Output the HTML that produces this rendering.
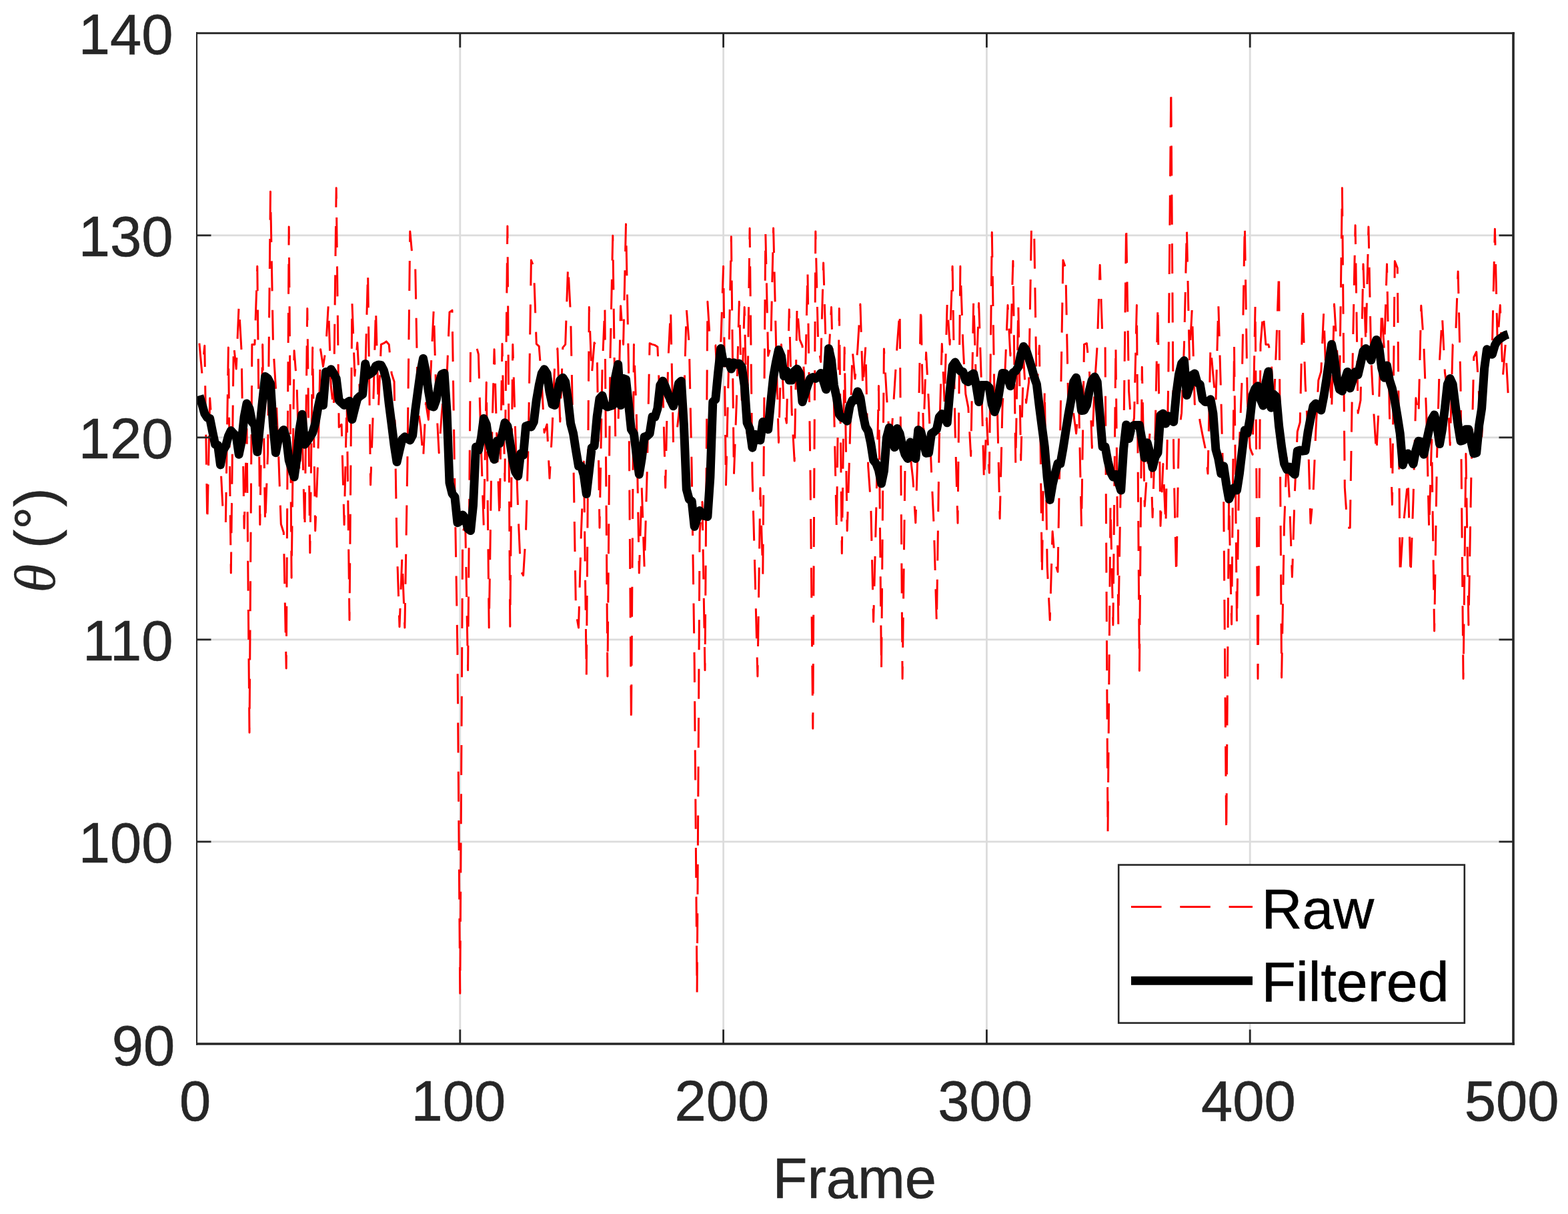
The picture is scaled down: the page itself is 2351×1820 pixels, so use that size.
<!DOCTYPE html>
<html lang="en"><head><meta charset="utf-8"><title>Raw vs Filtered angle per frame</title>
<style>html,body{margin:0;padding:0;background:#fff}body{width:2351px;height:1820px;overflow:hidden}svg{display:block}text{font-family:"Liberation Sans",Arial,Helvetica,sans-serif;font-size:85.00px;fill:#262626;stroke:#262626;stroke-width:0.6px}.lg text{stroke:#000}.th{font-family:"Liberation Serif",serif;font-style:italic;font-size:87px;stroke-width:0.3px}.lg text{fill:#000}</style></head><body>
<svg width="2351" height="1820" viewBox="0 0 2351 1820" role="img" aria-label="Raw and filtered angle per frame">
<rect width="2351" height="1820" fill="#fff"/>
<path d="M689.8 49.7 V1565.0 M1084.6 49.7 V1565.0 M1479.4 49.7 V1565.0 M1874.2 49.7 V1565.0 M295.0 1261.9 H2269.0 M295.0 958.9 H2269.0 M295.0 655.8 H2269.0 M295.0 352.8 H2269.0" stroke="#dcdcdc" stroke-width="2.8" fill="none"/>
<clipPath id="c"><rect x="295.0" y="49.7" width="1974.0" height="1515.3"/></clipPath>
<g clip-path="url(#c)" fill="none">
<path d="M298.9 514.7 L302.9 559.6 L306.8 518.3 L310.8 784.7 L314.7 597.1 L318.7 653.5 L322.6 671.1 L326.6 686.8 L330.5 691.9 L334.5 771.0 L338.4 784.7 L342.4 521.1 L346.3 859.0 L350.3 515.6 L354.2 553.1 L358.2 456.9 L362.1 526.5 L366.1 792.1 L370.0 643.1 L374.0 1098.3 L377.9 516.4 L381.9 516.4 L385.8 399.2 L389.8 786.6 L393.7 516.4 L397.6 786.6 L401.6 678.6 L405.5 287.3 L409.5 516.4 L413.4 580.6 L417.4 675.1 L421.3 785.7 L425.3 798.3 L429.2 1002.0 L433.2 340.1 L437.1 866.3 L441.1 525.7 L445.0 576.1 L449.0 711.4 L452.9 639.4 L456.9 794.8 L460.8 462.4 L464.8 828.7 L468.7 521.1 L472.7 795.7 L476.6 692.7 L480.6 523.8 L484.5 549.4 L488.5 522.9 L492.4 456.0 L496.3 579.5 L500.3 615.6 L504.2 281.8 L508.2 640.6 L512.1 636.3 L516.1 786.6 L520.0 600.6 L524.0 929.6 L527.9 452.3 L531.9 563.3 L535.8 513.7 L539.8 595.5 L543.7 561.2 L547.7 559.8 L551.6 407.4 L555.6 727.0 L559.5 613.7 L563.5 462.4 L567.4 613.6 L571.4 516.4 L575.3 514.7 L579.3 511.9 L583.2 516.4 L587.2 560.3 L591.1 572.2 L595.0 815.9 L599.0 939.7 L602.9 835.2 L606.9 941.1 L610.8 699.1 L614.8 346.9 L618.7 390.0 L622.7 400.1 L626.6 611.5 L630.6 639.2 L634.5 688.4 L638.5 603.9 L642.4 629.2 L646.4 547.1 L650.3 463.3 L654.3 606.5 L658.2 678.9 L662.2 621.3 L666.1 576.1 L670.1 563.6 L674.0 467.9 L678.0 465.2 L681.9 732.6 L685.9 972.6 L689.8 1489.2 L693.7 798.3 L697.7 786.4 L701.6 1004.7 L705.6 514.7 L709.5 516.4 L713.5 516.4 L717.4 531.1 L721.4 670.9 L725.3 789.3 L729.3 573.2 L733.2 941.1 L737.2 671.5 L741.1 523.8 L745.1 662.4 L749.0 778.3 L753.0 515.6 L756.9 720.8 L760.9 339.0 L764.8 939.3 L768.8 516.4 L772.7 648.3 L776.7 765.1 L780.6 855.3 L784.6 862.7 L788.5 798.3 L792.4 655.8 L796.4 390.0 L800.3 400.1 L804.3 515.6 L808.2 519.2 L812.2 571.7 L816.1 648.5 L820.1 636.2 L824.0 717.1 L828.0 642.8 L831.9 541.5 L835.9 522.5 L839.8 632.1 L843.8 521.1 L847.7 516.4 L851.7 397.3 L855.6 472.5 L859.6 675.8 L863.5 917.7 L867.5 941.1 L871.4 798.3 L875.4 692.1 L879.3 1013.9 L883.3 460.6 L887.2 562.7 L891.1 513.7 L895.1 519.9 L899.0 791.2 L903.0 554.2 L906.9 458.7 L910.9 1013.9 L914.8 545.3 L918.8 353.3 L922.7 654.5 L926.7 649.7 L930.6 458.7 L934.6 516.4 L938.5 335.9 L942.5 549.7 L946.4 1086.2 L950.4 516.4 L954.3 621.5 L958.3 859.0 L962.2 730.9 L966.2 851.7 L970.1 711.9 L974.1 514.7 L978.0 516.4 L982.0 517.4 L985.9 520.1 L989.8 612.9 L993.8 578.4 L997.7 731.2 L1001.7 542.8 L1005.6 463.9 L1009.6 665.2 L1013.5 659.7 L1017.5 622.8 L1021.4 585.4 L1025.4 605.3 L1029.3 463.0 L1033.3 516.4 L1037.2 703.5 L1041.2 991.0 L1045.1 1489.2 L1049.1 798.3 L1053.0 752.4 L1057.0 1004.7 L1060.9 452.3 L1064.9 516.5 L1068.8 514.7 L1072.8 517.4 L1076.7 587.9 L1080.7 516.4 L1084.6 399.2 L1088.5 727.0 L1092.5 549.0 L1096.4 354.8 L1100.4 712.2 L1104.3 604.4 L1108.3 452.3 L1112.2 599.8 L1116.2 460.6 L1120.1 650.1 L1124.1 342.3 L1128.0 712.4 L1132.0 859.0 L1135.9 1013.9 L1139.9 731.8 L1143.8 860.8 L1147.8 349.3 L1151.7 533.4 L1155.7 519.0 L1159.6 342.0 L1163.6 516.4 L1167.5 663.4 L1171.5 516.4 L1175.4 613.1 L1179.4 634.3 L1183.3 463.9 L1187.2 618.4 L1191.2 691.1 L1195.1 457.5 L1199.1 509.2 L1203.0 518.3 L1207.0 584.6 L1210.9 405.6 L1214.9 701.3 L1218.8 1092.2 L1222.8 346.9 L1226.7 516.4 L1230.7 542.4 L1234.6 394.0 L1238.6 534.4 L1242.5 536.2 L1246.5 460.6 L1250.4 604.8 L1254.4 794.8 L1258.3 462.4 L1262.3 829.7 L1266.2 521.1 L1270.2 795.7 L1274.1 668.4 L1278.1 524.7 L1282.0 567.8 L1285.9 522.9 L1289.9 456.0 L1293.8 582.4 L1297.8 519.2 L1301.7 699.1 L1305.7 755.7 L1309.6 932.3 L1313.6 771.6 L1317.5 578.4 L1321.5 1005.6 L1325.4 522.9 L1329.4 593.2 L1333.3 651.3 L1337.3 643.0 L1341.2 582.0 L1345.2 516.4 L1349.1 465.2 L1353.1 1017.6 L1357.0 701.5 L1361.0 690.5 L1364.9 682.5 L1368.9 718.8 L1372.8 783.8 L1376.8 650.0 L1380.7 457.5 L1384.6 652.9 L1388.6 528.6 L1392.5 603.5 L1396.5 706.3 L1400.4 793.2 L1404.4 935.1 L1408.3 658.4 L1412.3 515.6 L1416.2 602.8 L1420.2 454.2 L1424.1 516.4 L1428.1 399.2 L1432.0 642.1 L1436.0 784.2 L1439.9 399.2 L1443.9 516.4 L1447.8 590.5 L1451.8 610.9 L1455.7 683.4 L1459.7 449.6 L1463.6 577.0 L1467.6 454.5 L1471.5 575.1 L1475.5 722.5 L1479.4 626.9 L1483.3 709.0 L1487.3 348.2 L1491.2 611.6 L1495.2 605.1 L1499.1 777.4 L1503.1 606.3 L1507.0 554.8 L1511.0 457.5 L1514.9 533.1 L1518.9 391.3 L1522.8 696.9 L1526.8 456.3 L1530.7 689.8 L1534.7 538.4 L1538.6 603.9 L1542.6 572.9 L1546.5 339.0 L1550.5 340.5 L1554.4 591.5 L1558.4 518.3 L1562.3 862.7 L1566.3 582.1 L1570.2 849.8 L1574.2 929.6 L1578.1 796.7 L1582.0 844.3 L1586.0 857.2 L1589.9 634.7 L1593.9 390.0 L1597.8 401.9 L1601.8 610.0 L1605.7 596.5 L1609.7 620.2 L1613.6 649.9 L1617.6 602.5 L1621.5 790.0 L1625.5 516.4 L1629.4 514.7 L1633.4 554.2 L1637.3 671.5 L1641.3 577.3 L1645.2 517.9 L1649.2 397.3 L1653.1 511.0 L1657.1 519.2 L1661.0 1249.8 L1665.0 755.9 L1668.9 936.9 L1672.9 516.5 L1676.8 936.0 L1680.7 704.4 L1684.7 667.8 L1688.6 335.5 L1692.6 585.9 L1696.5 644.4 L1700.5 626.9 L1704.4 457.5 L1708.4 1005.6 L1712.3 550.3 L1716.3 759.0 L1720.2 701.6 L1724.2 646.7 L1728.1 775.6 L1732.1 647.4 L1736.0 456.0 L1740.0 788.4 L1743.9 695.6 L1747.9 788.4 L1751.8 570.1 L1755.8 131.5 L1759.7 687.8 L1763.7 863.6 L1767.6 648.4 L1771.6 619.4 L1775.5 516.4 L1779.4 342.0 L1783.4 538.7 L1787.3 463.0 L1791.3 606.1 L1795.2 603.3 L1799.2 631.9 L1803.1 652.5 L1807.1 671.8 L1811.0 710.1 L1815.0 518.3 L1818.9 561.9 L1822.9 604.4 L1826.8 456.0 L1830.8 594.6 L1834.7 751.7 L1838.7 1249.8 L1842.6 746.9 L1846.6 936.0 L1850.5 516.5 L1854.5 936.0 L1858.4 664.0 L1862.4 562.6 L1866.3 335.9 L1870.3 600.5 L1874.2 671.4 L1878.1 681.5 L1882.1 456.9 L1886.0 1017.6 L1890.0 516.4 L1893.9 467.3 L1897.9 516.4 L1901.8 516.4 L1905.8 532.1 L1909.7 617.9 L1913.7 516.4 L1917.6 407.4 L1921.6 1015.7 L1925.5 787.0 L1929.5 678.9 L1933.4 749.1 L1937.4 864.9 L1941.3 739.8 L1945.3 647.0 L1949.2 633.2 L1953.2 456.3 L1957.1 575.3 L1961.1 648.1 L1965.0 784.7 L1969.0 740.2 L1972.9 645.5 L1976.8 570.1 L1980.8 557.0 L1984.7 468.8 L1988.7 579.7 L1992.6 534.5 L1996.6 615.7 L2000.5 456.0 L2004.5 522.1 L2008.4 588.0 L2012.4 281.8 L2016.3 730.8 L2020.3 791.2 L2024.2 791.2 L2028.2 534.0 L2032.1 337.8 L2036.1 619.3 L2040.0 600.0 L2044.0 395.9 L2047.9 516.4 L2051.9 340.1 L2055.8 537.5 L2059.8 618.9 L2063.7 680.8 L2067.7 600.5 L2071.6 462.4 L2075.5 525.6 L2079.5 395.9 L2083.4 620.1 L2087.4 756.6 L2091.3 391.5 L2095.3 401.9 L2099.2 864.5 L2103.2 798.3 L2107.1 758.1 L2111.1 717.8 L2115.0 864.5 L2119.0 748.6 L2122.9 596.8 L2126.9 624.3 L2130.8 458.2 L2134.8 516.4 L2138.7 621.6 L2142.7 793.9 L2146.6 659.1 L2150.6 946.1 L2154.5 686.0 L2158.5 540.5 L2162.4 473.4 L2166.4 558.3 L2170.3 586.2 L2174.2 667.1 L2178.2 516.4 L2182.1 516.4 L2186.1 406.9 L2190.0 575.3 L2194.0 1017.6 L2197.9 680.2 L2201.9 936.9 L2205.8 718.5 L2209.8 535.4 L2213.7 527.5 L2217.7 593.7 L2221.6 657.3 L2225.6 567.4 L2229.5 539.6 L2233.5 529.7 L2237.4 516.4 L2241.4 343.2 L2245.3 516.4 L2249.3 457.5 L2253.2 566.4 L2257.2 516.4 L2261.1 589.4" stroke="#ff0000" stroke-width="3" stroke-dasharray="45 28.3" stroke-linejoin="round"/>
<path d="M298.9 593.1 L302.9 606.2 L306.8 620.0 L310.8 626.2 L314.7 627.5 L318.7 647.5 L322.6 666.2 L326.6 667.5 L330.5 696.9 L334.5 675.0 L338.4 668.8 L342.4 653.8 L346.3 645.6 L350.3 650.0 L354.2 653.8 L358.2 681.2 L362.1 662.5 L366.1 625.0 L370.0 605.0 L374.0 612.5 L377.9 632.5 L381.9 637.5 L385.8 677.5 L389.8 637.5 L393.7 600.0 L397.6 564.4 L401.6 567.5 L405.5 575.0 L409.5 637.5 L413.4 678.8 L417.4 658.8 L421.3 650.0 L425.3 644.4 L429.2 656.2 L433.2 690.0 L437.1 702.5 L441.1 715.0 L445.0 687.5 L449.0 643.8 L452.9 621.2 L456.9 666.2 L460.8 661.2 L464.8 655.0 L468.7 648.8 L472.7 635.0 L476.6 612.5 L480.6 593.8 L484.5 607.5 L488.5 557.5 L492.4 558.7 L496.3 553.7 L500.3 560.0 L504.2 567.5 L508.2 600.0 L512.1 603.8 L516.1 607.5 L520.0 603.8 L524.0 601.2 L527.9 628.8 L531.9 612.5 L535.8 597.5 L539.8 593.8 L543.7 591.2 L547.7 545.6 L551.6 562.5 L555.6 560.0 L559.5 556.9 L563.5 548.7 L567.4 546.9 L571.4 547.5 L575.3 555.0 L579.3 570.0 L583.2 605.0 L587.2 636.2 L591.1 667.5 L595.0 692.5 L599.0 675.0 L602.9 658.8 L606.9 655.0 L610.8 657.5 L614.8 660.0 L618.7 652.5 L622.7 615.0 L626.6 586.2 L630.6 557.5 L634.5 537.5 L638.5 557.5 L642.4 586.2 L646.4 608.8 L650.3 610.0 L654.3 598.8 L658.2 575.0 L662.2 561.2 L666.1 559.4 L670.1 618.8 L674.0 723.7 L678.0 740.0 L681.9 745.0 L685.9 783.7 L689.8 781.3 L693.7 771.9 L697.7 777.5 L701.6 792.5 L705.6 795.6 L709.5 757.5 L713.5 670.0 L717.4 675.0 L721.4 657.5 L725.3 627.5 L729.3 636.2 L733.2 663.8 L737.2 678.8 L741.1 688.8 L745.1 661.2 L749.0 665.0 L753.0 651.2 L756.9 633.8 L760.9 638.8 L764.8 663.8 L768.8 690.0 L772.7 707.5 L776.7 713.8 L780.6 680.0 L784.6 682.5 L788.5 638.8 L792.4 637.5 L796.4 640.0 L800.3 632.5 L804.3 600.0 L808.2 577.5 L812.2 560.0 L816.1 553.7 L820.1 560.0 L824.0 587.5 L828.0 606.2 L831.9 607.5 L835.9 587.5 L839.8 570.0 L843.8 566.2 L847.7 572.5 L851.7 600.0 L855.6 635.0 L859.6 650.0 L863.5 675.0 L867.5 698.8 L871.4 698.8 L875.4 712.5 L879.3 740.6 L883.3 706.2 L887.2 671.2 L891.1 668.8 L895.1 625.0 L899.0 597.5 L903.0 593.1 L906.9 607.5 L910.9 610.0 L914.8 608.8 L918.8 607.5 L922.7 565.0 L926.7 546.3 L930.6 607.5 L934.6 567.5 L938.5 568.8 L942.5 606.2 L946.4 643.8 L950.4 650.0 L954.3 681.2 L958.3 711.2 L962.2 687.5 L966.2 655.0 L970.1 653.8 L974.1 650.0 L978.0 625.0 L982.0 625.0 L985.9 612.5 L989.8 577.5 L993.8 571.2 L997.7 580.0 L1001.7 591.2 L1005.6 600.0 L1009.6 608.8 L1013.5 595.0 L1017.5 575.0 L1021.4 571.2 L1025.4 637.5 L1029.3 733.7 L1033.3 748.7 L1037.2 751.3 L1041.2 789.4 L1045.1 777.5 L1049.1 765.6 L1053.0 771.3 L1057.0 773.7 L1060.9 774.4 L1064.9 715.0 L1068.8 602.5 L1072.8 598.8 L1076.7 558.7 L1080.7 522.5 L1084.6 543.7 L1088.5 543.7 L1092.5 543.1 L1096.4 553.1 L1100.4 543.7 L1104.3 546.3 L1108.3 545.0 L1112.2 550.0 L1116.2 577.5 L1120.1 633.8 L1124.1 642.5 L1128.0 671.2 L1132.0 651.2 L1135.9 656.2 L1139.9 660.0 L1143.8 632.5 L1147.8 633.8 L1151.7 643.8 L1155.7 602.5 L1159.6 565.0 L1163.6 542.5 L1167.5 524.4 L1171.5 533.7 L1175.4 563.8 L1179.4 556.3 L1183.3 570.0 L1187.2 570.0 L1191.2 556.3 L1195.1 553.1 L1199.1 560.0 L1203.0 602.5 L1207.0 590.0 L1210.9 577.5 L1214.9 567.5 L1218.8 565.6 L1222.8 567.5 L1226.7 565.0 L1230.7 559.4 L1234.6 571.2 L1238.6 583.8 L1242.5 522.5 L1246.5 540.0 L1250.4 577.5 L1254.4 596.2 L1258.3 621.2 L1262.3 626.2 L1266.2 627.5 L1270.2 631.2 L1274.1 608.8 L1278.1 600.0 L1282.0 600.0 L1285.9 586.9 L1289.9 596.2 L1293.8 621.2 L1297.8 640.0 L1301.7 646.2 L1305.7 665.0 L1309.6 690.0 L1313.6 695.0 L1317.5 705.0 L1321.5 725.0 L1325.4 706.2 L1329.4 656.2 L1333.3 641.2 L1337.3 656.2 L1341.2 670.6 L1345.2 642.5 L1349.1 650.0 L1353.1 668.8 L1357.0 681.2 L1361.0 687.5 L1364.9 663.1 L1368.9 681.2 L1372.8 687.5 L1376.8 644.4 L1380.7 647.5 L1384.6 662.5 L1388.6 679.4 L1392.5 678.8 L1396.5 650.0 L1400.4 647.5 L1404.4 643.8 L1408.3 625.0 L1412.3 620.6 L1416.2 625.0 L1420.2 633.8 L1424.1 587.5 L1428.1 548.7 L1432.0 543.1 L1436.0 550.0 L1439.9 556.3 L1443.9 557.5 L1447.8 570.0 L1451.8 572.5 L1455.7 562.5 L1459.7 560.0 L1463.6 577.5 L1467.6 602.5 L1471.5 577.5 L1475.5 577.5 L1479.4 577.5 L1483.3 581.2 L1487.3 606.2 L1491.2 617.5 L1495.2 606.2 L1499.1 581.2 L1503.1 559.4 L1507.0 560.0 L1511.0 566.2 L1514.9 578.8 L1518.9 558.7 L1522.8 556.3 L1526.8 550.0 L1530.7 531.3 L1534.7 519.4 L1538.6 525.0 L1542.6 537.5 L1546.5 550.0 L1550.5 565.0 L1554.4 576.2 L1558.4 610.0 L1562.3 640.0 L1566.3 670.0 L1570.2 716.3 L1574.2 749.4 L1578.1 726.3 L1582.0 710.0 L1586.0 695.0 L1589.9 695.0 L1593.9 672.5 L1597.8 647.5 L1601.8 622.5 L1605.7 601.2 L1609.7 572.5 L1613.6 566.2 L1617.6 585.0 L1621.5 615.6 L1625.5 615.0 L1629.4 607.5 L1633.4 585.0 L1637.3 570.0 L1641.3 565.0 L1645.2 572.5 L1649.2 622.5 L1653.1 670.0 L1657.1 670.0 L1661.0 691.2 L1665.0 707.5 L1668.9 715.0 L1672.9 711.2 L1676.8 722.5 L1680.7 735.0 L1684.7 672.5 L1688.6 636.9 L1692.6 657.5 L1696.5 640.0 L1700.5 637.5 L1704.4 637.5 L1708.4 637.5 L1712.3 660.0 L1716.3 686.2 L1720.2 663.8 L1724.2 678.8 L1728.1 701.2 L1732.1 685.0 L1736.0 678.8 L1740.0 622.5 L1743.9 620.0 L1747.9 635.0 L1751.8 623.8 L1755.8 630.0 L1759.7 632.5 L1763.7 590.0 L1767.6 561.2 L1771.6 545.0 L1775.5 540.6 L1779.4 592.5 L1783.4 580.0 L1787.3 562.5 L1791.3 560.0 L1795.2 573.8 L1799.2 576.2 L1803.1 598.8 L1807.1 602.5 L1811.0 602.5 L1815.0 598.8 L1818.9 620.0 L1822.9 673.8 L1826.8 687.5 L1830.8 710.0 L1834.7 698.8 L1838.7 726.3 L1842.6 748.1 L1846.6 738.7 L1850.5 731.3 L1854.5 735.0 L1858.4 710.0 L1862.4 676.2 L1866.3 645.0 L1870.3 649.4 L1874.2 627.5 L1878.1 592.5 L1882.1 582.5 L1886.0 578.8 L1890.0 598.8 L1893.9 608.1 L1897.9 573.8 L1901.8 556.9 L1905.8 611.2 L1909.7 591.2 L1913.7 595.0 L1917.6 638.8 L1921.6 670.0 L1925.5 695.0 L1929.5 703.8 L1933.4 700.0 L1937.4 707.5 L1941.3 711.2 L1945.3 676.2 L1949.2 675.0 L1953.2 676.2 L1957.1 675.6 L1961.1 647.5 L1965.0 627.5 L1969.0 608.8 L1972.9 605.0 L1976.8 611.2 L1980.8 615.0 L1984.7 595.0 L1988.7 570.0 L1992.6 542.5 L1996.6 516.3 L2000.5 536.3 L2004.5 567.5 L2008.4 583.8 L2012.4 586.2 L2016.3 570.0 L2020.3 557.5 L2024.2 581.9 L2028.2 570.0 L2032.1 557.5 L2036.1 561.9 L2040.0 545.0 L2044.0 526.3 L2047.9 522.5 L2051.9 532.5 L2055.8 540.0 L2059.8 520.0 L2063.7 509.4 L2067.7 520.0 L2071.6 551.3 L2075.5 566.2 L2079.5 548.1 L2083.4 570.0 L2087.4 582.5 L2091.3 601.2 L2095.3 625.0 L2099.2 650.0 L2103.2 696.9 L2107.1 685.0 L2111.1 680.0 L2115.0 687.5 L2119.0 695.6 L2122.9 675.0 L2126.9 661.2 L2130.8 662.5 L2134.8 681.2 L2138.7 662.5 L2142.7 643.8 L2146.6 628.8 L2150.6 621.9 L2154.5 637.5 L2158.5 665.6 L2162.4 643.8 L2166.4 612.5 L2170.3 576.2 L2174.2 567.5 L2178.2 576.2 L2182.1 607.5 L2186.1 637.5 L2190.0 661.2 L2194.0 660.0 L2197.9 643.8 L2201.9 643.8 L2205.8 662.5 L2209.8 680.0 L2213.7 678.8 L2217.7 637.5 L2221.6 612.5 L2225.6 552.5 L2229.5 523.7 L2233.5 530.0 L2237.4 531.3 L2241.4 517.5 L2245.3 510.6 L2249.3 507.5 L2253.2 505.0 L2257.2 502.5 L2261.1 501.3" stroke="#000" stroke-width="13" stroke-linejoin="round" stroke-linecap="butt"/>
</g>
<path d="M689.8 1565.0 v-21.5 M689.8 49.7 v21.5 M1084.6 1565.0 v-21.5 M1084.6 49.7 v21.5 M1479.4 1565.0 v-21.5 M1479.4 49.7 v21.5 M1874.2 1565.0 v-21.5 M1874.2 49.7 v21.5 M295.0 1261.9 h21.5 M2269.0 1261.9 h-21.5 M295.0 958.9 h21.5 M2269.0 958.9 h-21.5 M295.0 655.8 h21.5 M2269.0 655.8 h-21.5 M295.0 352.8 h21.5 M2269.0 352.8 h-21.5" stroke="#262626" stroke-width="2.8" fill="none"/>
<g fill="#262626"><rect x="294" y="48.3" width="2.1" height="1518.4"/><rect x="2267.2" y="48.3" width="3.6" height="1518.4"/><rect x="294" y="48.3" width="1976.8" height="2.9"/><rect x="294" y="1563.2" width="1976.8" height="3.5"/></g>
<text x="292.7" y="1680.2" text-anchor="middle">0</text>
<text x="687.5" y="1680.2" text-anchor="middle">100</text>
<text x="1082.3" y="1680.2" text-anchor="middle">200</text>
<text x="1477.1" y="1680.2" text-anchor="middle">300</text>
<text x="1871.9" y="1680.2" text-anchor="middle">400</text>
<text x="2266.7" y="1680.2" text-anchor="middle">500</text>
<text x="262.4" y="1597.1" text-anchor="end">90</text>
<text x="259.6" y="1293.2" text-anchor="end">100</text>
<text x="259.6" y="990.2" text-anchor="end">110</text>
<text x="259.6" y="687.1" text-anchor="end">120</text>
<text x="259.6" y="384.1" text-anchor="end">130</text>
<text x="259.6" y="81.0" text-anchor="end">140</text>
<text x="1281.3" y="1796.0" text-anchor="middle">Frame</text>
<text transform="translate(82.2 888.5) rotate(-90)"><tspan class="th">θ</tspan><tspan> (°)</tspan></text>
<g class="lg" font-size="84.3"><rect x="1677.2" y="1296.6" width="518.6" height="237" fill="#fff" stroke="#262626" stroke-width="2.6"/>
<path d="M1696 1359.5 H1878" stroke="#ff0000" stroke-width="3" stroke-dasharray="45.5 27.8" fill="none"/>
<path d="M1696 1470.3 H1878" stroke="#000" stroke-width="13" fill="none"/>
<text x="1891.5" y="1392" style="font-size:84.3px">Raw</text><text x="1891.5" y="1501.3" style="font-size:84.3px">Filtered</text></g>
</svg></body></html>
